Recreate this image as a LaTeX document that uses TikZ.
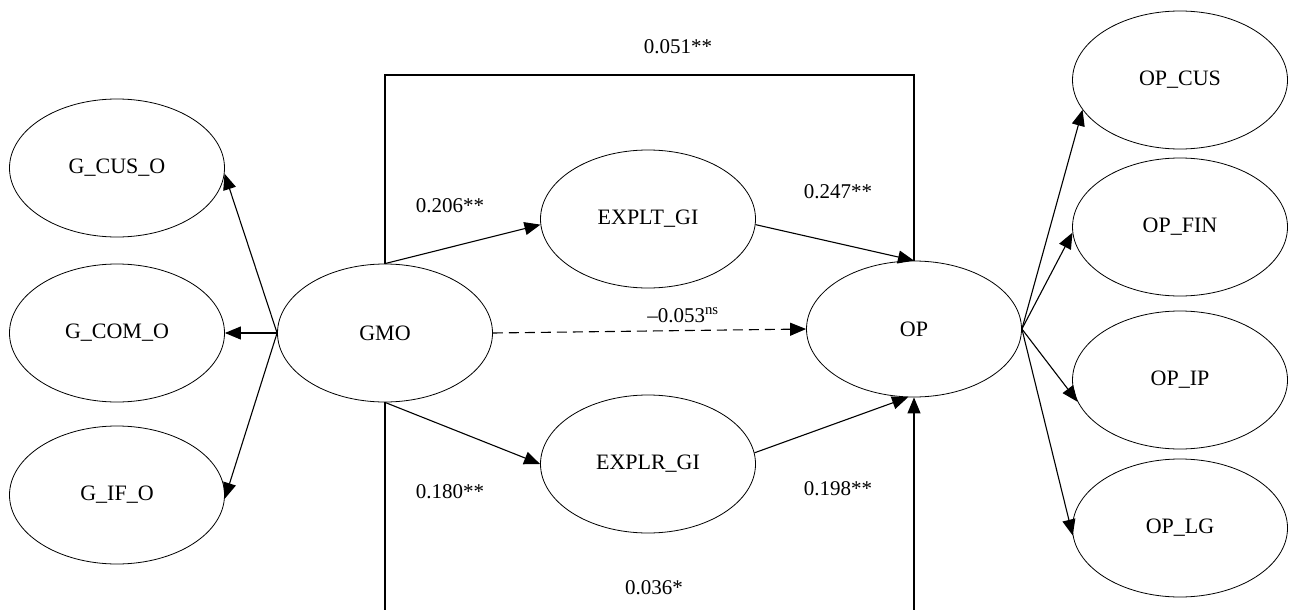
\documentclass[tikz,border=0pt]{standalone}
\usepackage{fontspec}
\setmainfont{Liberation Serif}
\usetikzlibrary{arrows.meta,shapes.geometric,calc}
\begin{document}
\begin{tikzpicture}[x=1pt,y=-1pt,
  lat/.style={ellipse,draw,line width=0.8pt,inner sep=0pt,minimum width=215pt,minimum height=138pt,font=\fontsize{22}{26}\selectfont},
  conn/.style={line width=1.1pt,-{Triangle[length=16pt,width=13pt]}},
  plain/.style={line width=1.1pt},
  lbl/.style={inner sep=0pt,font=\fontsize{21}{25}\selectfont}]
\useasboundingbox (0,0) rectangle (1290,610);
% nodes
\node[lat] (gcus) at (117,168) {G\_CUS\_O};
\node[lat] (gcom) at (117,333) {G\_COM\_O};
\node[lat] (gif)  at (117,495) {G\_IF\_O};
\node[lat] (gmo)  at (385,333) {GMO};
\node[lat] (explt) at (648,219) {EXPLT\_GI};
\node[lat] (explr) at (648,464) {EXPLR\_GI};
\node[lat,minimum height=136pt] (op) at (914,329) {OP};
\node[lat] (opcus) at (1180,80) {OP\_CUS};
\node[lat] (opfin) at (1180,227) {OP\_FIN};
\node[lat] (opip)  at (1180,380) {OP\_IP};
\node[lat] (oplg)  at (1180,528) {OP\_LG};
% coordinates for routed connectors
\coordinate (toprow) at (650,75);
\coordinate (botrow) at (650,616);
% left loadings
\draw[conn] (gmo.west) -- (gcus.-3);
\draw[conn] (gmo.west) -- (gcom.east);
\draw[conn] (gmo.west) -- (gif.-2);
% paths
\draw[conn] (gmo.north) -- (explt.183);
\draw[conn] (explt.-3) -- (op.north);
\draw[conn] (gmo.south) -- (explr.west);
\draw[conn] (explr.6) -- (op.265);
\draw[conn,dash pattern=on 10pt off 6pt] (gmo.east) -- (op.west);
\draw[plain] (gmo.north) |- (toprow) -| (op.north);
\begin{scope}
\clip (0,0) rectangle (1290,610);
\draw[conn] (gmo.south) |- (botrow) -| (op.south);
\end{scope}
% right loadings
\draw[conn] (op.east) -- (opcus.197);
\draw[conn] (op.east) -- (opfin.183);
\draw[conn] (op.east) -- (opip.192);
\draw[conn] (op.east) -- (oplg.184);
% labels
\node[lbl] (l1) at (678,47) {0.051**};
\node[lbl] (l2) at (450,206) {0.206**};
\node[lbl] (l3) at (838,192) {0.247**};
\node[lbl] (l4) at (683,315) {\textendash0.053\textsuperscript{ns}};
\node[lbl] (l5) at (450,492) {0.180**};
\node[lbl] (l6) at (838,489) {0.198**};
\node[lbl] (l7) at (654,588) {0.036*};
\end{tikzpicture}
\end{document}
